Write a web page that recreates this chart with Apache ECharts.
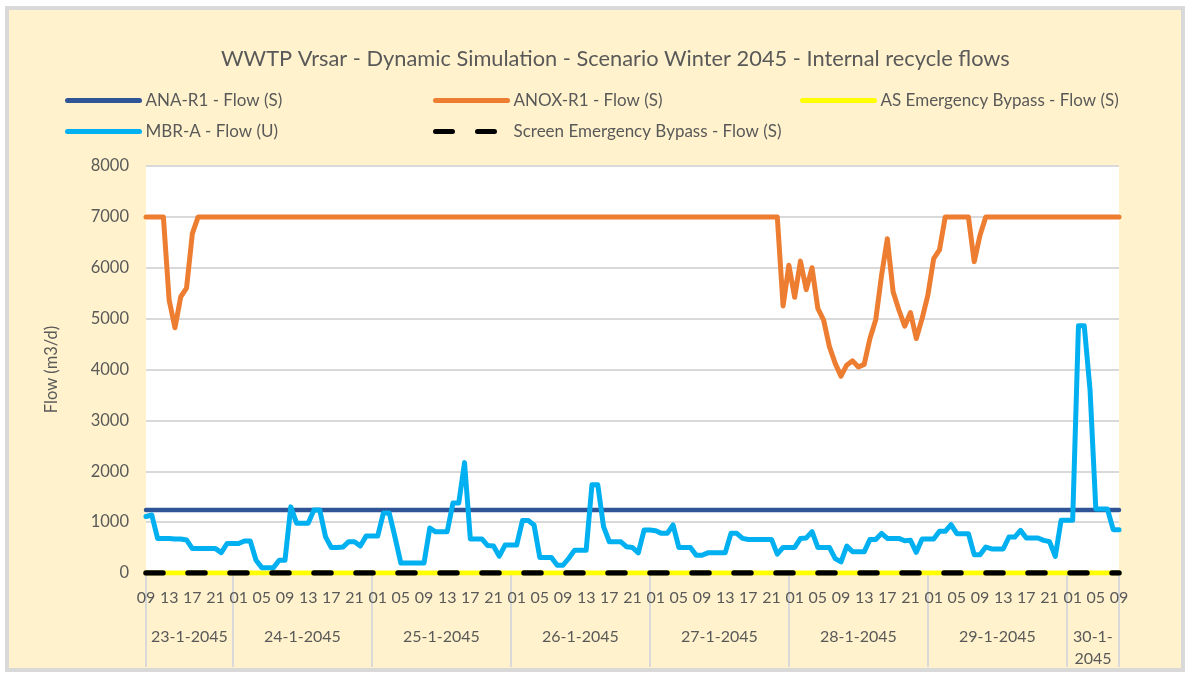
<!DOCTYPE html>
<html>
<head>
<meta charset="UTF-8">
<title>WWTP Vrsar - internal recycle flows</title>
<script src="https://cdn.jsdelivr.net/npm/echarts@6/dist/echarts.min.js"></script>
<style>
  body { margin: 0; background: #ffffff; }
  #frame {
    position: absolute; left: 5px; top: 6px;
    width: 1172px; height: 658px;
    border: 4px solid #d9d9d9; background: #fff2cc;
  }
  #main { position: absolute; left: 0; top: 0; width: 1192px; height: 673px; }
</style>
</head>
<body>
<div id="frame"></div>
<div id="main"></div>
<script>
// time axis: hourly from 23-1-2045 09:00 to 30-1-2045 09:00
const startHour = 9
const dayLabels = ['23-1-2045', '24-1-2045', '25-1-2045', '26-1-2045', '27-1-2045', '28-1-2045', '29-1-2045', '30-1-2045']
const hoursInDay = [15, 24, 24, 24, 24, 24, 24, 10]

// ANA-R1 - Flow (S), constant set point
const anaR1Flow = 1240
// AS / Screen emergency bypass flows stay at zero
const asBypassFlow = 0
const screenBypassFlow = 0

// ANOX-R1 - Flow (S), one row per day
const anoxR1 = [
  7000, 7000, 7000, 7000, 5360, 4820, 5430, 5600, 6670, 7000, 7000, 7000, 7000, 7000, 7000,
  7000, 7000, 7000, 7000, 7000, 7000, 7000, 7000, 7000, 7000, 7000, 7000, 7000, 7000, 7000, 7000, 7000, 7000, 7000, 7000, 7000, 7000, 7000, 7000,
  7000, 7000, 7000, 7000, 7000, 7000, 7000, 7000, 7000, 7000, 7000, 7000, 7000, 7000, 7000, 7000, 7000, 7000, 7000, 7000, 7000, 7000, 7000, 7000,
  7000, 7000, 7000, 7000, 7000, 7000, 7000, 7000, 7000, 7000, 7000, 7000, 7000, 7000, 7000, 7000, 7000, 7000, 7000, 7000, 7000, 7000, 7000, 7000,
  7000, 7000, 7000, 7000, 7000, 7000, 7000, 7000, 7000, 7000, 7000, 7000, 7000, 7000, 7000, 7000, 7000, 7000, 7000, 7000, 7000, 7000, 7000, 5250,
  6050, 5420, 6130, 5570, 6000, 5200, 4970, 4450, 4120, 3870, 4090, 4170, 4050, 4100, 4610, 4980, 5850, 6570, 5530, 5170, 4850, 5120, 4610, 5000,
  5460, 6180, 6350, 7000, 7000, 7000, 7000, 7000, 6120, 6640, 7000, 7000, 7000, 7000, 7000, 7000, 7000, 7000, 7000, 7000, 7000, 7000, 7000, 7000,
  7000, 7000, 7000, 7000, 7000, 7000, 7000, 7000, 7000, 7000
]

// MBR-A - Flow (U), one row per day
const mbrA = [
  1110, 1140, 680, 680, 680, 670, 670, 650, 480, 480, 480, 480, 480, 400, 580,
  580, 580, 630, 630, 250, 105, 105, 105, 250, 250, 1300, 980, 980, 980, 1240, 1240, 710, 500, 500, 510, 615, 615, 530, 725,
  725, 725, 1180, 1180, 700, 195, 195, 195, 195, 195, 885, 810, 810, 810, 1375, 1375, 2170, 670, 670, 670, 540, 530, 330, 548,
  548, 548, 1030, 1030, 944, 304, 304, 304, 152, 152, 290, 449, 449, 449, 1736, 1736, 911, 614, 614, 614, 515, 502, 396, 845,
  845, 832, 779, 779, 944, 502, 502, 502, 350, 350, 396, 396, 396, 396, 779, 779, 680, 660, 660, 660, 660, 660, 370, 502,
  502, 502, 680, 690, 812, 502, 502, 502, 284, 218, 528, 416, 416, 416, 660, 660, 779, 680, 680, 680, 634, 642, 406, 668,
  668, 668, 819, 819, 950, 773, 773, 773, 360, 360, 511, 472, 472, 472, 707, 707, 838, 688, 688, 688, 642, 616, 328, 1035,
  1035, 1035, 4860, 4860, 3600, 1258, 1258, 1258, 852, 852
]

const seriesNames = ['ANA-R1 - Flow (S)', 'ANOX-R1 - Flow (S)', 'AS Emergency Bypass - Flow (S)', 'MBR-A - Flow (U)', 'Screen Emergency Bypass - Flow (S)']

const textColor = '#595959'
const gridColor = '#d9d9d9'
const fontName = 'Lato'

// hour categories
let hourLabels = []
for (let i = 0; i < anoxR1.length; i++) {
  hourLabels.push(String((startHour + i) % 24).padStart(2, '0'))
}
const lastIdx = hourLabels.length - 1

// day boundaries / centres on the hour scale
let dayBounds = [0]
let dayCenters = []
let acc = 0
for (let d = 0; d < hoursInDay.length; d++) {
  let next = Math.min(acc + hoursInDay[d], lastIdx)
  dayCenters.push((acc + next) / 2)
  dayBounds.push(next)
  acc = next
}

function dayLabelFor(v) {
  let d = dayCenters.indexOf(v)
  if (d < 0) return ''
  let txt = dayLabels[d]
  // short span at the end wraps like the original
  if (hoursInDay[d] < 12) txt = txt.replace(/-(\d{4})$/, '-\n$1')
  return txt
}

let chart = echarts.init(document.getElementById('main'), null, { renderer: 'canvas' })

function lineSeries(name, data, color, width, type) {
  return {
    name: name,
    type: 'line',
    data: data,
    symbol: 'none',
    showSymbol: false,
    animation: false,
    lineStyle: { color: color, width: width, type: type || 'solid', cap: 'round', join: 'round' },
    itemStyle: { color: color }
  }
}

// one legend block per column, like the original layout
function legendColumn(left, names) {
  return {
    orient: 'vertical',
    left: left,
    top: 92,
    padding: 0,
    itemWidth: 72,
    itemHeight: 14,
    itemGap: 14,
    lineStyle: { width: 5, cap: 'round' },
    itemStyle: { opacity: 0, borderWidth: 0 },
    textStyle: { color: textColor, fontSize: 17, fontFamily: fontName, padding: [0, 0, 0, 1] },
    data: names
  }
}

let option = {
  backgroundColor: 'transparent',
  animation: false,
  textStyle: { fontFamily: fontName },
  title: {
    text: 'WWTP Vrsar - Dynamic Simulation - Scenario Winter 2045 - Internal recycle flows',
    left: 221,
    top: 48,
    padding: 0,
    textStyle: { color: textColor, fontSize: 21.8, fontWeight: 'normal', fontFamily: fontName }
  },
  legend: [
    legendColumn(65, [seriesNames[0], seriesNames[3]]),
    legendColumn(433, [seriesNames[1], seriesNames[4]]),
    legendColumn(800, [seriesNames[2]])
  ],
  grid: {
    left: 146, top: 166, width: 973, height: 407,
    show: true, backgroundColor: '#ffffff', borderWidth: 0
  },
  xAxis: [
    {
      type: 'category',
      data: hourLabels,
      boundaryGap: false,
      axisLine: { show: true, lineStyle: { color: gridColor, width: 2 } },
      axisTick: { show: false },
      axisLabel: { interval: 3, color: textColor, fontSize: 16, margin: 17, fontFamily: fontName },
      splitLine: { show: false }
    },
    {
      type: 'value',
      position: 'bottom',
      min: 0,
      max: lastIdx,
      axisLine: { show: false },
      splitLine: { show: false },
      axisTick: {
        show: true, length: 94, customValues: dayBounds,
        lineStyle: { color: gridColor, width: 2 }
      },
      axisLabel: {
        customValues: dayCenters,
        formatter: dayLabelFor,
        color: textColor, fontSize: 16, margin: 53, lineHeight: 22, fontFamily: fontName
      }
    }
  ],
  yAxis: {
    type: 'value',
    min: 0,
    max: 8000,
    interval: 1000,
    name: 'Flow (m3/d)',
    nameLocation: 'middle',
    nameGap: 86,
    nameRotate: 90,
    nameTextStyle: { color: textColor, fontSize: 16.5, fontFamily: fontName },
    axisLine: { show: false },
    axisTick: { show: false },
    axisLabel: { color: textColor, fontSize: 16.5, margin: 17, fontFamily: fontName, formatter: v => String(v) },
    splitLine: { lineStyle: { color: gridColor, width: 2 } }
  },
  series: [
    lineSeries(seriesNames[0], hourLabels.map(() => anaR1Flow), '#2f5597', 4.5),
    lineSeries(seriesNames[1], anoxR1, '#ed7d31', 5),
    lineSeries(seriesNames[2], hourLabels.map(() => asBypassFlow), '#ffff00', 5),
    lineSeries(seriesNames[3], mbrA, '#00b0f0', 5),
    lineSeries(seriesNames[4], hourLabels.map(() => screenBypassFlow), '#000000', 5.5, [17, 25])
  ]
}

chart.setOption(option)
</script>
</body>
</html>
